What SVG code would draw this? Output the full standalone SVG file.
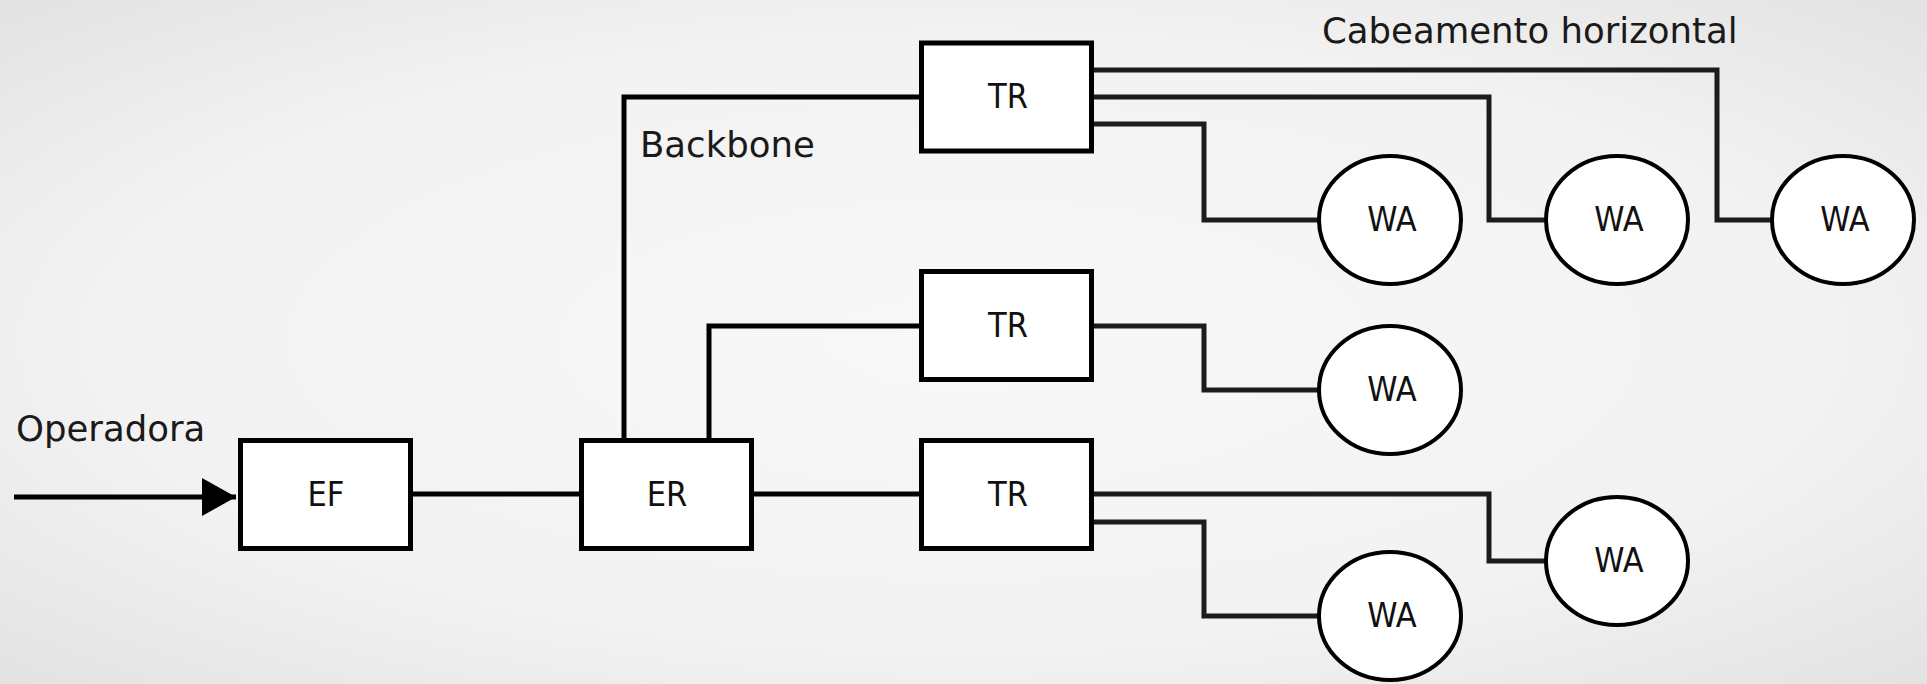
<svg xmlns="http://www.w3.org/2000/svg" width="1927" height="684" viewBox="0 0 1927 684">
  <defs>
    <radialGradient id="bg" cx="50%" cy="50%" r="75%">
      <stop offset="0" stop-color="#f8f8f8"/>
      <stop offset="0.6" stop-color="#f2f2f2"/>
      <stop offset="1" stop-color="#e0e0e0"/>
    </radialGradient>
    <marker id="arrow" markerUnits="userSpaceOnUse" markerWidth="36" markerHeight="40" refX="34" refY="19" orient="auto">
      <path d="M0,0 L34,19 L0,38 Z" fill="#000"/>
    </marker>
    <style>
      .box { fill: #ffffff; stroke: #000; stroke-width: 5; }
      .wa { fill: #ffffff; stroke: #000; stroke-width: 4; }
      .lbl { font-family: "DejaVu Sans Condensed", "DejaVu Sans", sans-serif; font-stretch: condensed; font-size: 34px; fill: #111; text-anchor: middle; }
      .note { font-family: "DejaVu Sans", "Liberation Sans", sans-serif; font-size: 35.5px; fill: #1a1a1a; }
      .main { fill: none; stroke: #000; stroke-width: 5; }
      .hz { fill: none; stroke: #1c1c1c; stroke-width: 5; }
    </style>
  </defs>
  <rect x="0" y="0" width="1927" height="684" fill="url(#bg)"/>

  <g id="connectors">
    <path class="main" d="M14 497 H236" marker-end="url(#arrow)"/>
    <path class="main" d="M413 494 H579"/>
    <path class="main" d="M754 494 H919"/>
    <path class="main" d="M624 438 V97 H919"/>
    <path class="main" d="M709 438 V326 H919"/>
    <path class="hz" d="M1094 70 H1717 V220 H1772"/>
    <path class="hz" d="M1094 97 H1489 V220 H1545"/>
    <path class="hz" d="M1094 124 H1204 V220 H1319"/>
    <path class="hz" d="M1094 326 H1204 V390 H1319"/>
    <path class="hz" d="M1094 494 H1489 V561 H1545"/>
    <path class="hz" d="M1094 522 H1204 V616 H1319"/>
  </g>

  <g id="labels">
    <text class="note" x="16" y="441">Operadora</text>
    <text class="note" x="640" y="157">Backbone</text>
    <text class="note" x="1322" y="43">Cabeamento horizontal</text>
  </g>

  <g id="EF">
    <rect class="box" x="240.5" y="440.5" width="170" height="108"/>
    <text class="lbl" x="326" y="506">EF</text>
  </g>
  <g id="ER">
    <rect class="box" x="581.5" y="440.5" width="170" height="108"/>
    <text class="lbl" x="667" y="506">ER</text>
  </g>
  <g id="TR1">
    <rect class="box" x="921.5" y="43" width="170" height="108"/>
    <text class="lbl" x="1008" y="108">TR</text>
  </g>
  <g id="TR2">
    <rect class="box" x="921.5" y="271.5" width="170" height="108"/>
    <text class="lbl" x="1008" y="337">TR</text>
  </g>
  <g id="TR3">
    <rect class="box" x="921.5" y="440.5" width="170" height="108"/>
    <text class="lbl" x="1008" y="506">TR</text>
  </g>

  <g id="WA1">
    <ellipse class="wa" cx="1390" cy="220" rx="71" ry="64"/>
    <text class="lbl" x="1392" y="231">WA</text>
  </g>
  <g id="WA2">
    <ellipse class="wa" cx="1617" cy="220" rx="71" ry="64"/>
    <text class="lbl" x="1619" y="231">WA</text>
  </g>
  <g id="WA3">
    <ellipse class="wa" cx="1843" cy="220" rx="71" ry="64"/>
    <text class="lbl" x="1845" y="231">WA</text>
  </g>
  <g id="WA4">
    <ellipse class="wa" cx="1390" cy="390" rx="71" ry="64"/>
    <text class="lbl" x="1392" y="401">WA</text>
  </g>
  <g id="WA5">
    <ellipse class="wa" cx="1617" cy="561" rx="71" ry="64"/>
    <text class="lbl" x="1619" y="572">WA</text>
  </g>
  <g id="WA6">
    <ellipse class="wa" cx="1390" cy="616" rx="71" ry="64"/>
    <text class="lbl" x="1392" y="627">WA</text>
  </g>
</svg>
